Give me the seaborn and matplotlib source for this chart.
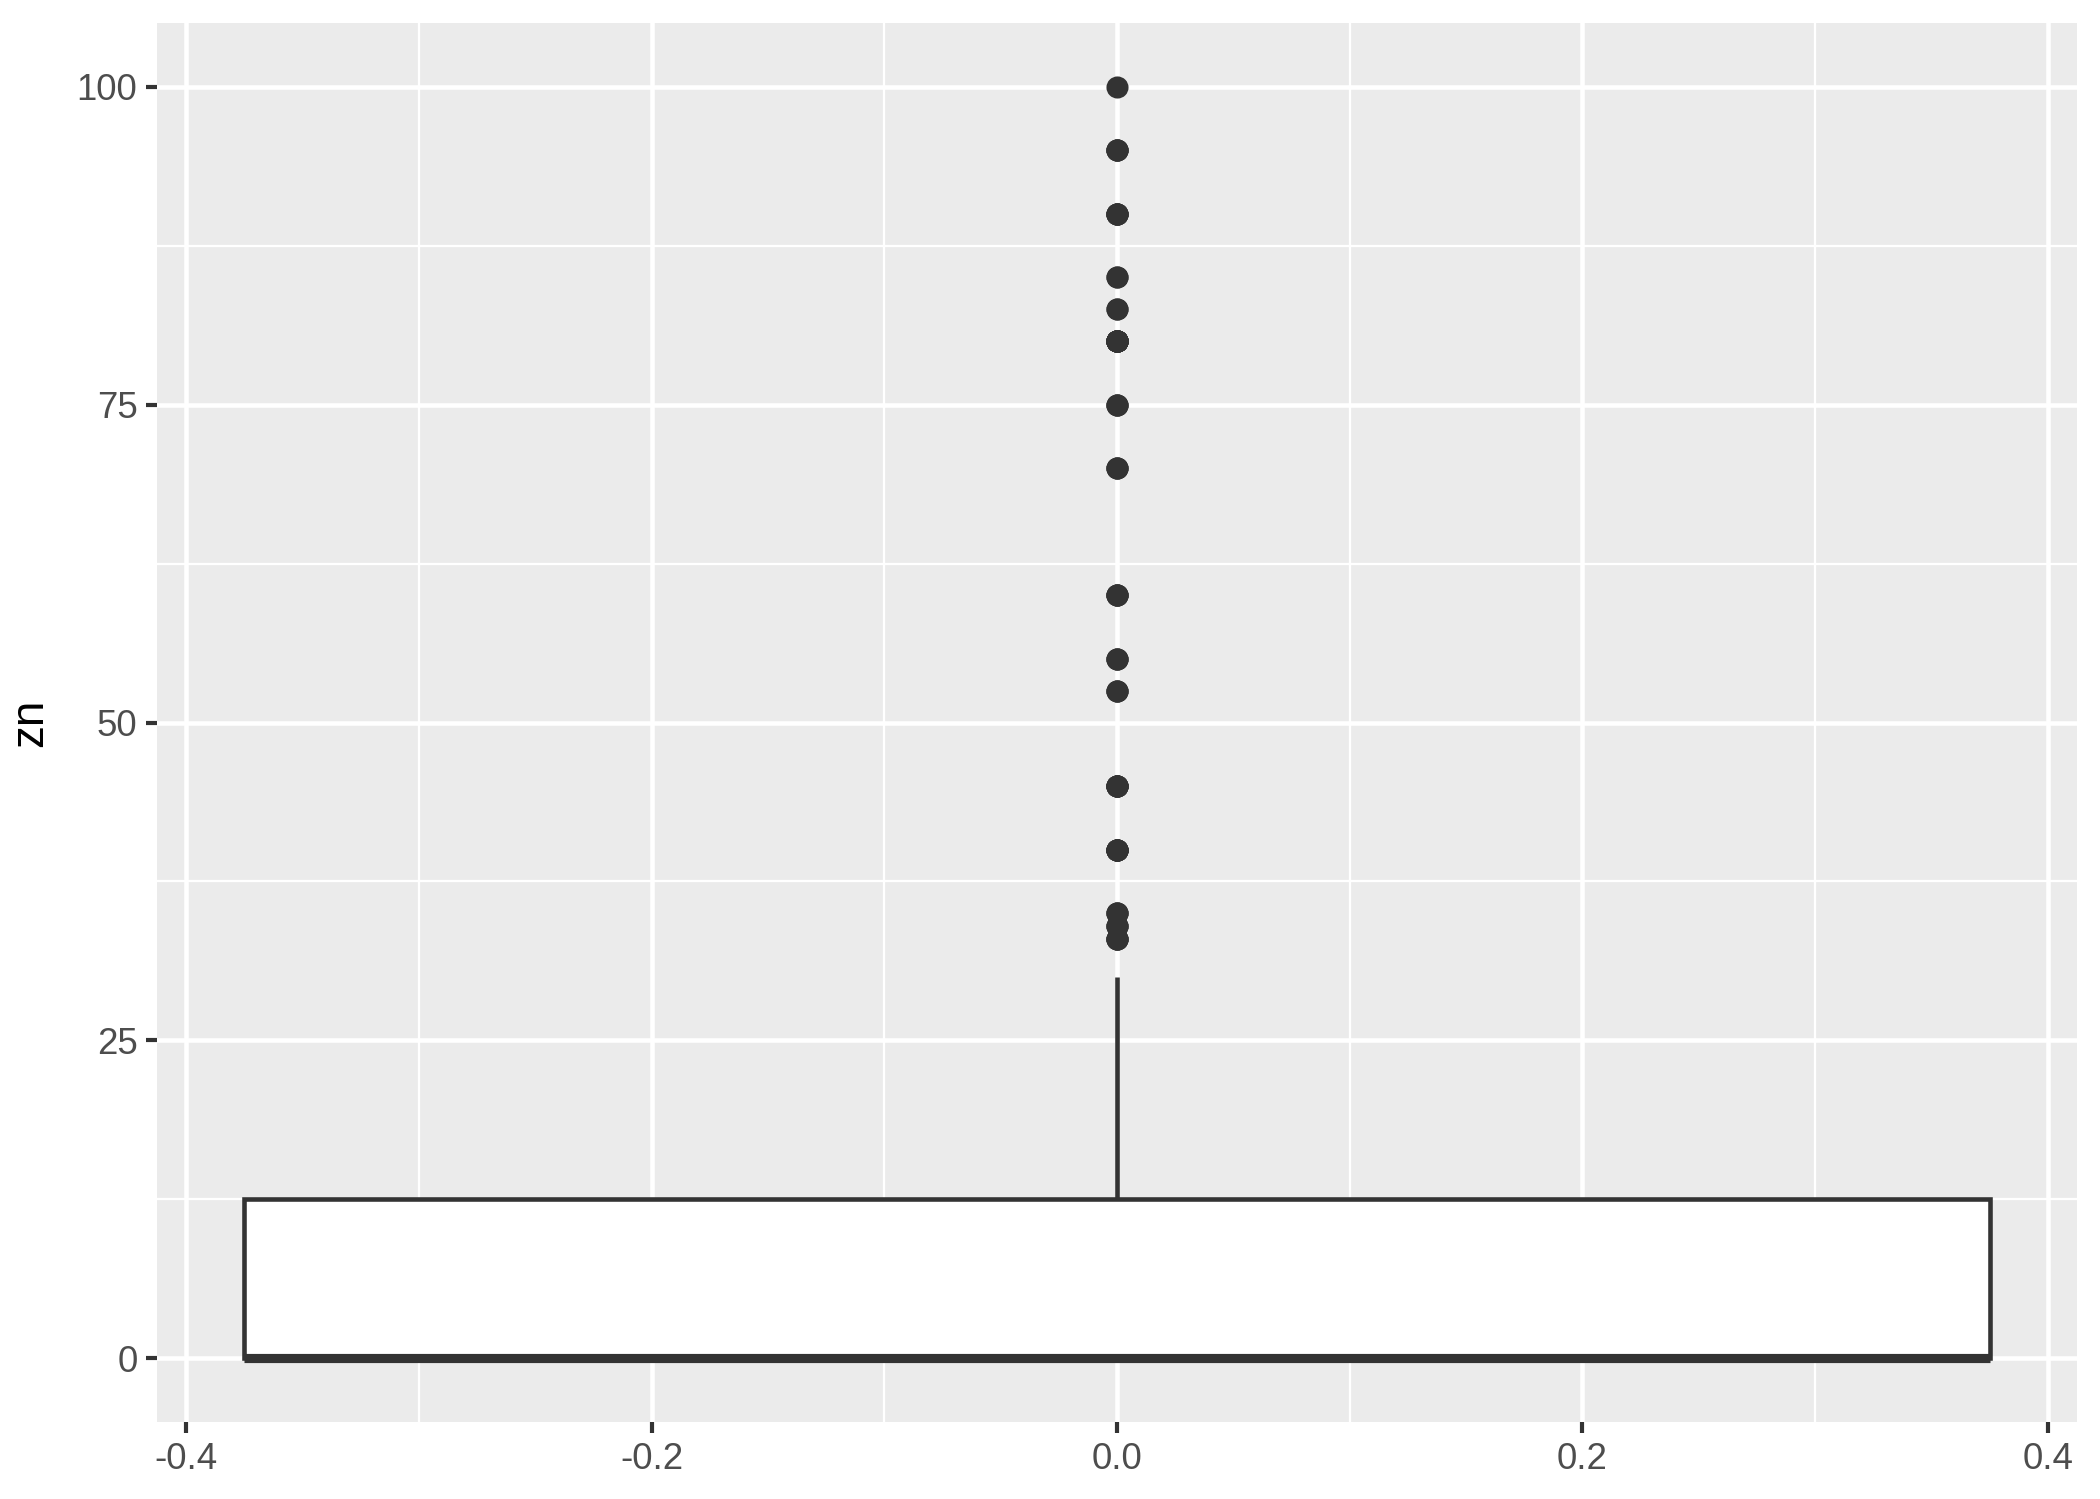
import numpy as np
import pandas as pd
import matplotlib
matplotlib.use("Agg")
import matplotlib.pyplot as plt
import seaborn as sns
from matplotlib.ticker import MultipleLocator, FixedLocator

# zn values (Boston housing) and how many rows take each value
zn_values = [0, 12.5, 17.5, 18, 20, 21, 22, 25, 28, 30, 33, 34, 35, 40, 45,
             52.5, 55, 60, 70, 75, 80, 82.5, 85, 90, 95, 100]
zn_counts = [372, 10, 1, 1, 21, 4, 10, 10, 3, 6, 4, 3, 3, 7, 6,
             3, 3, 4, 3, 3, 15, 2, 2, 5, 4, 1]

x_ticks = [-0.4, -0.2, 0.0, 0.2, 0.4]
x_labels = ["-0.4", "-0.2", "0.0", "0.2", "0.4"]
y_ticks = [0, 25, 50, 75, 100]

df = pd.DataFrame({"zn": np.repeat(zn_values, zn_counts)})

sns.set_theme(style="darkgrid")
plt.rcParams["font.family"] = ["Liberation Sans", "DejaVu Sans"]

fig = plt.figure(figsize=(7, 1499 / 300), dpi=300)
ax = fig.add_axes([157 / 2100, 1 - 1422 / 1499, 1920 / 2100, 1399 / 1499])

dark = "#333333"
sns.boxplot(data=df, y="zn", width=0.75, color="white", linecolor=dark,
            linewidth=1.1, showcaps=False, fliersize=4.3,
            flierprops=dict(marker="o", markerfacecolor=dark,
                            markeredgecolor=dark),
            medianprops=dict(color=dark, linewidth=2.2),
            boxprops=dict(facecolor="white", edgecolor=dark, linewidth=1.1),
            whiskerprops=dict(color=dark, linewidth=1.1),
            ax=ax)

ax.set_facecolor("#EBEBEB")
for s in ax.spines.values():
    s.set_visible(False)

ax.set_xlim(-0.4125, 0.4125)
ax.set_ylim(-5, 105)
ax.xaxis.set_major_locator(FixedLocator(x_ticks))
ax.set_xticklabels(x_labels)
ax.xaxis.set_minor_locator(FixedLocator([-0.3, -0.1, 0.1, 0.3]))
ax.yaxis.set_major_locator(FixedLocator(y_ticks))
ax.yaxis.set_minor_locator(MultipleLocator(12.5))

ax.set_axisbelow(True)
ax.grid(True, which="major", color="white", linewidth=1.1)
ax.grid(True, which="minor", color="white", linewidth=0.55)
ax.tick_params(which="major", length=2.7, width=1.0, color=dark,
               labelsize=8.8, labelcolor="#4D4D4D", pad=2,
               bottom=True, left=True)
ax.tick_params(which="minor", length=0)

ax.set_xlabel("")
ax.set_ylabel("zn", fontsize=11, color="black", labelpad=6)

fig.savefig("out.png", dpi=300, facecolor="white")
